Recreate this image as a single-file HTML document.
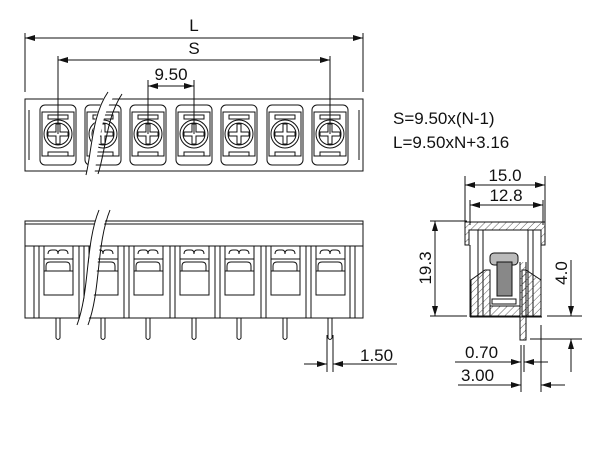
<!DOCTYPE html>
<html><head><style>
html,body{margin:0;padding:0;background:#fff}
svg{display:block}
text{font-family:"Liberation Sans",Arial,sans-serif;fill:#111}
</style></head><body>
<svg width="600" height="450" viewBox="0 0 600 450" xmlns="http://www.w3.org/2000/svg">
<defs>
<marker id="a" markerWidth="10" markerHeight="6" refX="10" refY="3" orient="auto-start-reverse" markerUnits="userSpaceOnUse"><path d="M0,0 L10,3 L0,6z" fill="#111"/></marker>
<pattern id="h" width="5" height="5" patternUnits="userSpaceOnUse" patternTransform="rotate(45)"><line x1="0" y1="0" x2="0" y2="5" stroke="#333" stroke-width="0.8"/></pattern>
<g id="cellT">
<rect x="-18" y="105" width="36" height="60" rx="5" fill="none"/>
<rect x="-16" y="112" width="32" height="44" fill="none"/>
<rect x="-10" y="115" width="20" height="4" fill="none"/>
<rect x="-10" y="152" width="20" height="4" fill="none"/>
<circle cx="0" cy="134" r="14" fill="none"/>
<circle cx="0" cy="134" r="11" fill="none"/>
<path d="M-2,124 v8 h-8 v4 h8 v8 h4 v-8 h8 v-4 h-8 v-8z" fill="none"/>
</g>
<g id="cellB">
<line x1="-24" y1="246" x2="-24" y2="318"/>
<line x1="-19" y1="246" x2="-19" y2="318"/>
<rect x="-14" y="246" width="29" height="49" fill="none"/>
<path d="M-10,254 q0,-4 4,-4 h3 q3,0 3,4 q0,-4 3,-4 h3 q4,0 4,4" fill="none"/>
<line x1="-14" y1="259" x2="15" y2="259"/>
<path d="M-12,271 v-5 q0,-4 4,-4 h16 q4,0 4,4 v5z" fill="none"/>
<line x1="-14" y1="271" x2="15" y2="271"/>
<path d="M-2,318 v20 q2,3 4,0 v-20" fill="none"/>
</g>
</defs>
<g stroke="#111" stroke-width="1" fill="none">
<line x1="25" y1="33" x2="25" y2="92"/><line x1="363" y1="33" x2="363" y2="92"/>
<line x1="25" y1="38" x2="363" y2="38" marker-start="url(#a)" marker-end="url(#a)"/>
<line x1="58" y1="56" x2="58" y2="134"/><line x1="330" y1="56" x2="330" y2="134"/>
<line x1="58" y1="60" x2="330" y2="60" marker-start="url(#a)" marker-end="url(#a)"/>
<line x1="148" y1="80" x2="148" y2="134"/><line x1="194" y1="80" x2="194" y2="134"/>
<line x1="148" y1="86" x2="194" y2="86" marker-start="url(#a)" marker-end="url(#a)"/>
<rect x="25" y="99" width="338" height="72"/>
<path d="M29,110 v50 M359,110 v50"/>
<use href="#cellT" x="58"/><use href="#cellT" x="103"/><use href="#cellT" x="148"/><use href="#cellT" x="194"/><use href="#cellT" x="239"/><use href="#cellT" x="285"/><use href="#cellT" x="330"/>
<path d="M112,92 C95,115 95,150 90,175" stroke-width="8" stroke="#fff"/>
<path d="M108,92 C92,115 92,150 86,175 M122,94 C106,118 106,150 98,174"/>
<rect x="25" y="221" width="338" height="97"/>
<line x1="25" y1="224" x2="363" y2="224"/>
<line x1="25" y1="246" x2="363" y2="246"/>
<line x1="355" y1="246" x2="355" y2="318"/><line x1="350" y1="246" x2="350" y2="318"/>
<use href="#cellB" x="58"/><use href="#cellB" x="103"/><use href="#cellB" x="148"/><use href="#cellB" x="194"/><use href="#cellB" x="239"/><use href="#cellB" x="285"/><use href="#cellB" x="330"/>
<path d="M104,210 C90,245 95,290 82,325" stroke-width="9" stroke="#fff"/>
<path d="M99,210 C85,245 90,290 77,325 M110,210 C96,245 101,290 88,325"/>
<line x1="327" y1="335" x2="327" y2="372"/><line x1="333" y1="335" x2="333" y2="372"/>
<line x1="304" y1="364" x2="327" y2="364" marker-end="url(#a)"/>
<line x1="356" y1="364" x2="333" y2="364" marker-end="url(#a)"/>
<line x1="356" y1="364" x2="397" y2="364"/>
<line x1="465" y1="176" x2="465" y2="223"/><line x1="545" y1="176" x2="545" y2="223"/>
<line x1="465" y1="185" x2="545" y2="185" marker-start="url(#a)" marker-end="url(#a)"/>
<line x1="470" y1="200" x2="470" y2="225"/><line x1="543" y1="200" x2="543" y2="225"/>
<line x1="470" y1="205" x2="543" y2="205" marker-start="url(#a)" marker-end="url(#a)"/>
<path d="M465,222 h80 v23 h-4 v-15 h-72 v15 h-4z" fill="url(#h)"/>
<path d="M478,230 v87 M483,230 v87 M528,230 v87 M533,230 v87 M470,245 v72 M541,245 v72"/>
<path d="M470,317 h72"/>
<path d="M471,316 v-36 l14,-10 h5 v46z" fill="url(#h)"/>
<path d="M541,316 v-36 l-15,-10 h-4 v46z" fill="url(#h)"/>
<path d="M490,306 h30 v10 h-30z" fill="url(#h)"/>
<rect x="490" y="253" width="28" height="12" rx="4" fill="#bbb"/>
<rect x="497" y="262" width="15" height="34" fill="#888"/>
<rect x="492" y="299" width="24" height="5"/>
<path d="M520,262 v78 h6 v-78" fill="url(#h)"/>
<line x1="430" y1="221" x2="467" y2="221"/><line x1="430" y1="316" x2="467" y2="316"/>
<line x1="435" y1="221" x2="435" y2="316" marker-start="url(#a)" marker-end="url(#a)"/>
<line x1="547" y1="316" x2="582" y2="316"/><line x1="530" y1="339" x2="582" y2="339"/>
<line x1="571" y1="260" x2="571" y2="316" marker-end="url(#a)"/>
<line x1="571" y1="372" x2="571" y2="339" marker-end="url(#a)"/>
<line x1="521" y1="345" x2="521" y2="392"/><line x1="524" y1="345" x2="524" y2="372"/>
<line x1="541" y1="325" x2="541" y2="392"/>
<line x1="455" y1="362" x2="521" y2="362" marker-end="url(#a)"/>
<line x1="548" y1="362" x2="524" y2="362" marker-end="url(#a)"/>
<line x1="458" y1="385" x2="521" y2="385" marker-end="url(#a)"/>
<line x1="565" y1="385" x2="541" y2="385" marker-end="url(#a)"/>
</g>
<g font-size="17">
<text x="194" y="31" text-anchor="middle">L</text>
<text x="194" y="54" text-anchor="middle">S</text>
<text x="171" y="80" text-anchor="middle">9.50</text>
<text x="393" y="124">S=9.50x(N-1)</text>
<text x="393" y="148">L=9.50xN+3.16</text>
<text x="505" y="181" text-anchor="middle">15.0</text>
<text x="506" y="201" text-anchor="middle">12.8</text>
<text x="360" y="361">1.50</text>
<text x="465" y="358">0.70</text>
<text x="461" y="381">3.00</text>
<text transform="translate(431,268) rotate(-90)" text-anchor="middle">19.3</text>
<text transform="translate(567,273) rotate(-90)" text-anchor="middle">4.0</text>
</g>
</svg>
</body></html>
